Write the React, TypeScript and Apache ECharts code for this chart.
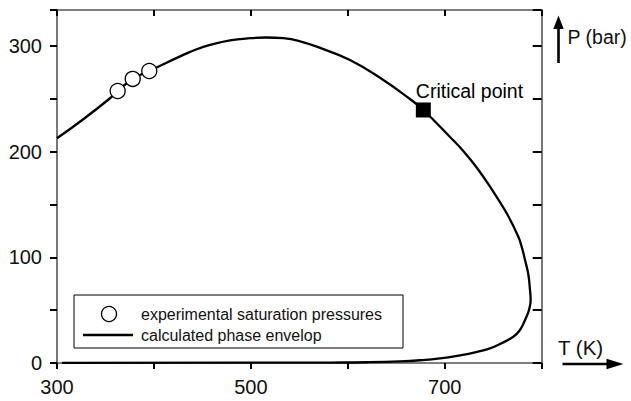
import React, { useEffect, useRef } from "react";
import * as echarts from "echarts";

// Phase envelope (T in K, P in bar), traced clockwise from the left
const envelopeT = [300, 327.1, 354.7, 362.6, 378.1, 395.2, 430.3, 444.1, 457.8, 478.5, 499.1, 515.6, 533.4, 550.7, 567.9, 602.2, 636.6, 664.1, 677.9, 705.4, 719.1, 733.3, 746.7, 763.9, 775.9, 779.7, 782.8, 786.3, 787.9, 788.6, 786.9, 782.8, 777.6, 770.7, 757.0, 746.7, 731.2, 715.7, 695.1, 674.5, 653.8, 619.8, 581.6, 550.7, 305.2];
const envelopeP = [212.6, 230.6, 250.5, 257.4, 268.8, 276.3, 291.5, 296.9, 300.9, 305.2, 307.3, 308.0, 307.3, 304.4, 299.3, 286.7, 267.8, 249.8, 239.4, 213.9, 200.6, 184.5, 166.8, 141.7, 119.5, 108.8, 97.5, 83.3, 69.1, 59.6, 50.2, 40.7, 31.2, 24.9, 18.0, 13.9, 10.1, 7.3, 4.4, 2.6, 1.5, 0.7, 0.4, 0.3, 0.2];

// Experimental saturation pressures
const expT = [362.6, 378.1, 395.2];
const expP = [257.4, 268.8, 276.3];

// Critical point
const criticalT = [677.9];
const criticalP = [239.4];

// Tick labels
const xLabelValues = [300, 500, 700];
const yLabelValues = [0, 100, 200, 300];

const X_MIN = 300;
const X_MAX = 800;
const Y_MIN = 0;
const Y_MAX = 334;

const FONT = "Liberation Sans, Arial, Helvetica, sans-serif";

export default function App() {
  const ref = useRef<HTMLDivElement>(null);

  useEffect(() => {
    if (!ref.current) return;
    const chart = echarts.init(ref.current, undefined, { renderer: "svg" });

    const axisLine = { onZero: false, lineStyle: { color: "#555", width: 1.6 } };
    const tickStyle = { color: "#000", width: 2 };

    const option: any = {
      animation: false,
      backgroundColor: "#fff",
      grid: { left: 57, top: 10, right: 89.3, bottom: 38, containLabel: false },
      xAxis: [
        {
          type: "value",
          min: X_MIN,
          max: X_MAX,
          interval: 100,
          position: "bottom",
          axisLine,
          axisTick: { inside: false, length: 6, lineStyle: tickStyle },
          axisLabel: {
            formatter: (v: number) => (xLabelValues.includes(v) ? String(v) : ""),
            fontSize: 20,
            color: "#111",
            fontFamily: FONT,
            margin: 14,
          },
          splitLine: { show: false },
        },
        {
          type: "value",
          min: X_MIN,
          max: X_MAX,
          interval: 100,
          position: "top",
          axisLine,
          axisTick: { inside: true, length: 6, lineStyle: tickStyle },
          axisLabel: { show: false },
          splitLine: { show: false },
        },
      ],
      yAxis: [
        {
          type: "value",
          min: Y_MIN,
          max: Y_MAX,
          interval: 50,
          position: "left",
          axisLine,
          axisTick: { inside: false, length: 7, lineStyle: tickStyle },
          axisLabel: {
            formatter: (v: number) => (yLabelValues.includes(v) ? String(v) : ""),
            fontSize: 20,
            color: "#111",
            fontFamily: FONT,
            margin: 15,
          },
          splitLine: { show: false },
        },
        {
          type: "value",
          min: Y_MIN,
          max: Y_MAX,
          interval: 50,
          position: "right",
          axisLine,
          axisTick: { inside: true, length: 9, lineStyle: tickStyle },
          axisLabel: { show: false },
          splitLine: { show: false },
        },
      ],
      series: [
        {
          type: "line",
          name: "calculated phase envelop",
          data: envelopeT.map((t, i) => [t, envelopeP[i]]),
          smooth: 0.45,
          showSymbol: false,
          symbol: "none",
          lineStyle: { color: "#000", width: 2.3 },
          z: 2,
        },
        {
          type: "scatter",
          name: "experimental saturation pressures",
          data: expT.map((t, i) => [t, expP[i]]),
          symbol: "circle",
          symbolSize: 15,
          itemStyle: { color: "#fff", borderColor: "#000", borderWidth: 1.3, opacity: 1 },
          z: 3,
        },
        {
          type: "scatter",
          name: "Critical point",
          data: criticalT.map((t, i) => [t, criticalP[i]]),
          symbol: "rect",
          symbolSize: 15,
          itemStyle: { color: "#000", opacity: 1 },
          label: {
            show: true,
            formatter: "Critical point",
            position: "top",
            distance: 1,
            align: "left",
            offset: [-7.5, 0],
            fontSize: 19.5,
            color: "#000",
            opacity: 1,
            fontFamily: FONT,
          },
          z: 4,
        },
      ],
      graphic: [
        // Legend box
        {
          type: "rect",
          shape: { x: 74, y: 295, width: 329, height: 53 },
          style: { fill: "#fff", stroke: "#000", lineWidth: 1 },
          z: 10,
        },
        {
          type: "circle",
          shape: { cx: 109, cy: 314, r: 7.5 },
          style: { fill: "#fff", stroke: "#000", lineWidth: 1.3 },
          z: 11,
        },
        {
          type: "text",
          x: 141,
          y: 314,
          style: {
            text: "experimental saturation pressures",
            fontSize: 16,
            fontFamily: FONT,
            fill: "#111",
            verticalAlign: "middle",
          },
          z: 11,
        },
        {
          type: "line",
          shape: { x1: 83, y1: 335, x2: 133, y2: 335 },
          style: { stroke: "#000", lineWidth: 2.3 },
          z: 11,
        },
        {
          type: "text",
          x: 141,
          y: 335,
          style: {
            text: "calculated phase envelop",
            fontSize: 16,
            fontFamily: FONT,
            fill: "#111",
            verticalAlign: "middle",
          },
          z: 11,
        },
        // P axis arrow and name
        {
          type: "line",
          shape: { x1: 558.5, y1: 63, x2: 558.5, y2: 26 },
          style: { stroke: "#000", lineWidth: 2.6 },
          z: 10,
        },
        {
          type: "polygon",
          shape: { points: [[553.3, 29], [563.7, 29], [558.5, 15.5]] },
          style: { fill: "#000" },
          z: 10,
        },
        {
          type: "text",
          x: 567.5,
          y: 37,
          style: {
            text: "P (bar)",
            fontSize: 19.5,
            fontFamily: FONT,
            fill: "#111",
            verticalAlign: "middle",
          },
          z: 10,
        },
        // T axis arrow and name
        {
          type: "line",
          shape: { x1: 562.5, y1: 364, x2: 610, y2: 364 },
          style: { stroke: "#000", lineWidth: 2.6 },
          z: 10,
        },
        {
          type: "polygon",
          shape: { points: [[606.5, 358.8], [606.5, 369.2], [623.5, 364]] },
          style: { fill: "#000" },
          z: 10,
        },
        {
          type: "text",
          x: 558,
          y: 347.5,
          style: {
            text: "T (K)",
            fontSize: 20.5,
            fontFamily: FONT,
            fill: "#111",
            verticalAlign: "middle",
          },
          z: 10,
        },
      ],
    };

    chart.setOption(option);
    return () => chart.dispose();
  }, []);

  return (
    <div
      ref={ref}
      style={{ position: "fixed", left: 0, top: 0, width: 631, height: 401, background: "#fff" }}
    />
  );
}
